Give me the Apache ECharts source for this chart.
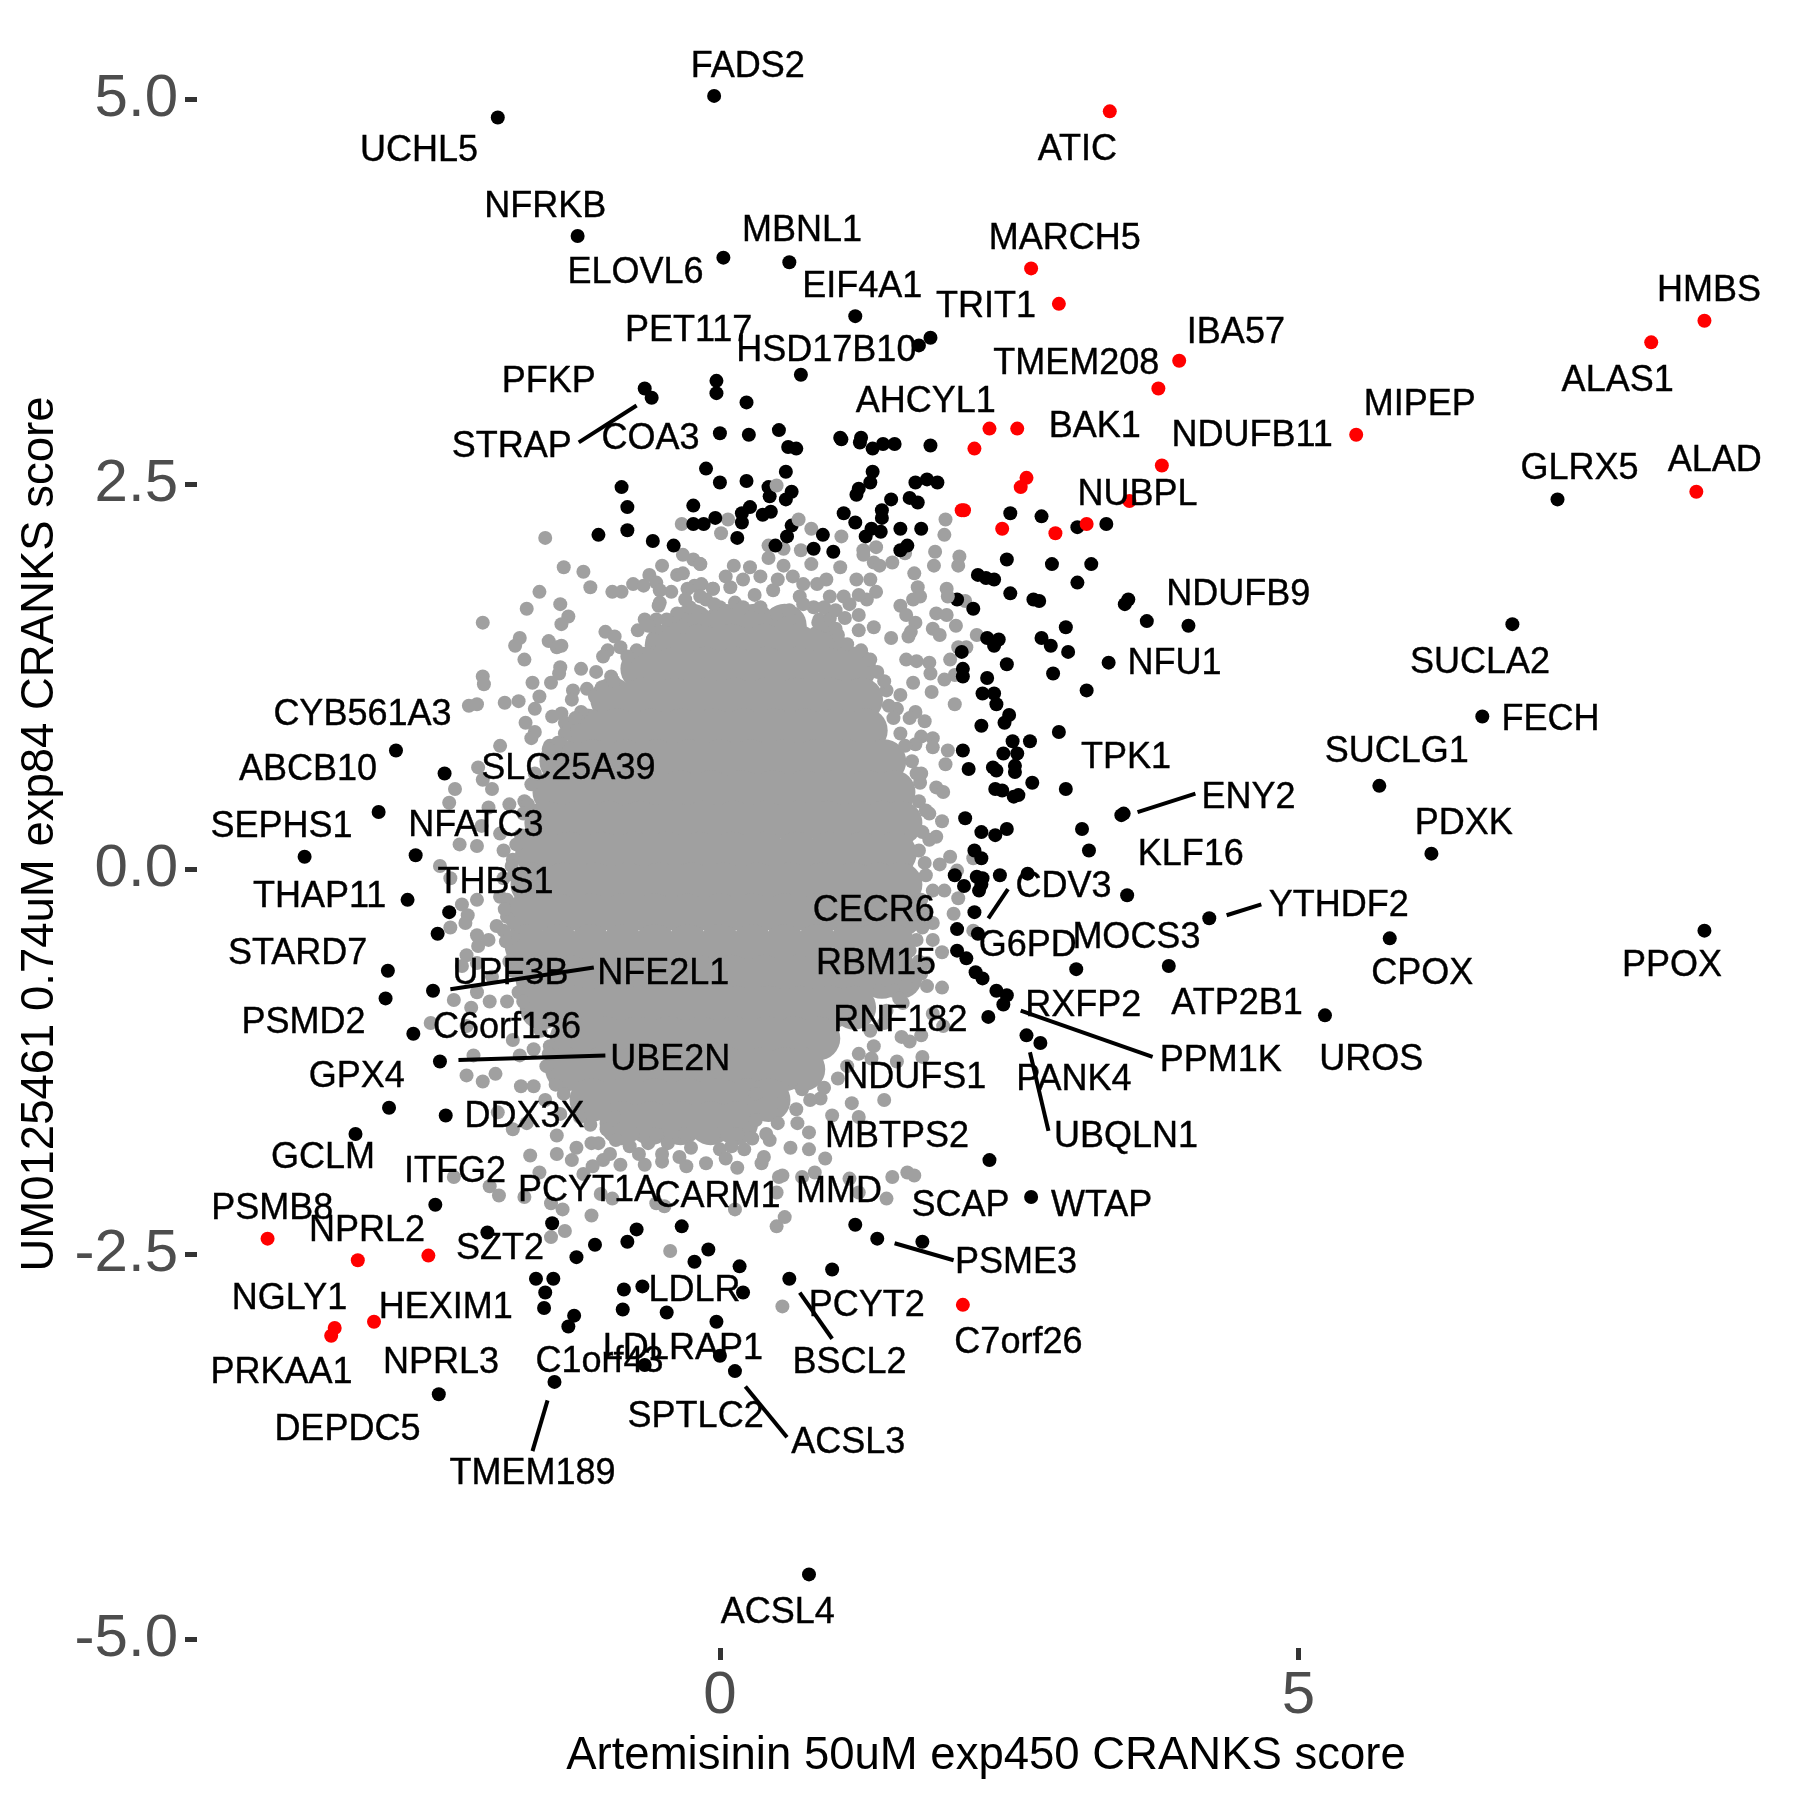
<!DOCTYPE html>
<html><head><meta charset="utf-8">
<style>html,body{margin:0;padding:0;background:#fff}#c{width:1800px;height:1800px}</style>
<script src="https://cdn.jsdelivr.net/npm/echarts@6/dist/echarts.min.js"></script>
</head><body><div id="c"></div>
<script>
const xTicks=[0,5];
const yTicks=[-5,-2.5,0,2.5,5];
const xTitle="Artemisinin 50uM exp450 CRANKS score";
const yTitle="UM0125461 0.74uM exp84 CRANKS score";
const redPoints=[[3.37,4.92],[2.69,3.90],[2.93,3.67],[8.51,3.56],[8.05,3.42],[3.97,3.30],[3.79,3.12],[5.50,2.82],[2.33,2.86],[2.57,2.86],[2.20,2.73],[3.82,2.62],[2.65,2.54],[2.60,2.48],[3.54,2.39],[8.44,2.45],[2.09,2.33],[2.11,2.33],[2.44,2.21],[2.90,2.18],[3.17,2.24],[-3.91,-2.40],[-3.13,-2.54],[-2.52,-2.51],[2.10,-2.83],[-2.99,-2.94],[-3.33,-2.98],[-3.36,-3.03]];
const blackPoints=[[-0.05,5.02],[-1.92,4.88],[-1.23,4.11],[0.03,3.97],[0.60,3.94],[1.17,3.59],[1.82,3.45],[1.72,3.40],[0.70,3.21],[-0.03,3.17],[-0.03,3.09],[-0.65,3.12],[-0.59,3.06],[0.23,3.03],[0,2.83],[0.25,2.82],[0.51,2.85],[0.59,2.74],[1.04,2.80],[1.22,2.80],
[-0.12,2.60],[0,2.51],[0.23,2.52],[0.57,2.58],[0.42,2.48],[0.62,2.45],[0.57,2.40],[0.43,2.42],[0.26,2.35],[0.19,2.31],[0.19,2.25],[-0.04,2.28],[-0.14,2.24],[0.15,2.15],[0.44,2.32],[0.37,2.30],[0.62,2.23],[0.58,2.16],[0.48,2.10],[0.66,2.73],[0.89,2.17],[0.81,2.08],[0.98,2.06],[1.07,2.31],[1.17,2.25],[1.05,2.79],[1.21,2.77],[1.32,2.73],[1.41,2.76],[1.51,2.76],[1.82,2.75],[1.32,2.58],[1.30,2.51],[1.20,2.47],[1.18,2.43],[1.48,2.40],[1.40,2.33],[1.40,2.28],[1.69,2.51],[1.79,2.53],[1.88,2.51],[1.64,2.41],[1.71,2.38],[1.56,2.21],[1.74,2.21],[1.31,2.21],[1.26,2.16],[1.39,2.19],[1.56,2.07],[1.62,2.10],[2.51,2.31],[2.48,2.01],[2.23,1.91],[2.30,1.89],[2.37,1.88],[2.51,1.79],[2.05,1.75],[2.19,1.69],[2.31,1.50],[2.41,1.49],[2.37,1.45],[2.48,1.33],[2.09,1.41],[2.10,1.30],[2.10,1.25],[2.31,1.24],[2.27,1.14],[2.37,1.14],[2.39,1.07],[2.50,1.00],[2.46,0.95],[2.26,0.93],[2.53,0.83],[2.45,0.75],[2.10,0.77],
[-0.85,2.48],[-0.80,2.35],[-0.80,2.20],[-1.05,2.17],[-0.58,2.13],[-0.40,2.10],[-0.23,2.36],[-0.23,2.24],
[2.15,0.65],[2.36,0.66],[2.39,0.64],[2.55,0.67],[2.38,0.52],[2.44,0.51],[2.54,0.47],[2.12,0.33],[2.26,0.24],[2.38,0.22],[2.48,0.26],[2.20,0.12],[2.26,0.07],[2.03,-0.04],[2.11,-0.11],[2.42,-0.04],[2.22,-0.05],[2.27,-0.06],[2.26,-0.10],[2.24,-0.14],[2.20,-0.28],[2.05,-0.39],[2.23,-0.42],[2.05,-0.53],[2.13,-0.58],[2.21,-0.67],[2.27,-0.71],[2.39,-0.79],[2.48,-0.82],[2.45,-0.88],[2.32,-0.96],[2.66,-0.03],
[2.71,1.75],[2.76,1.74],[3.09,1.86],[2.87,1.98],[3.21,1.98],[2.78,2.29],[3.09,2.22],[3.34,2.24],[2.99,1.57],[2.78,1.50],[2.86,1.45],[3.01,1.41],[2.88,1.27],[3.36,1.34],[3.17,1.16],[3.53,1.75],[3.50,1.72],[3.69,1.61],[4.05,1.58],[2.93,0.89],[2.68,0.83],[2.57,0.75],[2.55,0.63],[2.58,0.48],[2.70,0.56],[2.99,0.52],[3.47,0.35],[3.49,0.36],[3.13,0.26],[3.19,0.12],[3.52,-0.17],
[6.85,1.59],[6.59,0.99],[5.70,0.54],[6.15,0.10],[7.24,2.40],[8.51,-0.40],[5.79,-0.45],[4.23,-0.32],[3.88,-0.63],[3.08,-0.65],[5.23,-0.95],[2.65,-1.08],[2.77,-1.13],[2.33,-1.89],[2.69,-2.13],
[-2.46,-2.18],[-2.01,-2.36],[-1.45,-2.30],[-1.24,-2.52],[-1.08,-2.44],[-0.80,-2.42],[-0.72,-2.34],[-0.33,-2.32],[-0.22,-2.55],[-0.10,-2.47],[0.17,-2.58],[0.20,-2.75],[0.60,-2.66],[0.97,-2.60],[1.17,-2.31],[1.36,-2.40],[1.75,-2.42],[-1.59,-2.66],[-1.44,-2.66],[-1.51,-2.75],[-1.52,-2.85],[-1.26,-2.90],[-1.31,-2.97],[-0.83,-2.73],[-0.67,-2.71],[-0.84,-2.86],[-0.46,-2.88],[-0.03,-2.94],[-0.65,-3.22],[0,-3.16],[0.13,-3.26],[-1.43,-3.33],[-2.43,-3.41],[0.77,-4.58],
[-2.80,0.77],[-2.38,0.62],[-2.95,0.37],[-2.63,0.09],[-3.59,0.08],[-2.70,-0.20],[-2.34,-0.28],[-2.44,-0.42],[-2.87,-0.66],[-2.89,-0.84],[-2.48,-0.79],[-2.65,-1.07],[-2.42,-1.25],[-2.86,-1.55],[-3.15,-1.72],[-2.37,-1.60]];
const grayFringe=[[-1.51,2.15],[-1.35,1.96],[-1.18,1.93],[-1.12,1.83],[-1.56,1.80],[-1.38,1.72],[-1.67,1.69],[-1.31,1.64],[-1.37,1.59],[-2.05,1.60],[-1.73,1.50],[-1.77,1.45],[-1.48,1.48],[-1.41,1.44],[-1.37,1.45],[-1.69,1.36],[-2.05,1.25],[-2.04,1.20],[-1.38,1.31],[-1.39,1.27],[-1.46,1.21],[-1.62,1.21],[-1.56,1.12],[-1.74,1.09],[-1.86,1.08],[-2.17,1.06],[-2.10,1.07],[-1.60,1.04],[-1.45,0.99],[-1.37,1.01],[-1.68,0.95],[-1.60,0.89],[-1.63,0.85],[-1.90,0.80],[-1.47,0.80],
[-0.33,2.24],[-0.32,2.04],[-0.23,2.01],[-0.17,1.98],[-0.50,1.97],[-0.37,1.91],[-0.32,1.92],[-0.61,1.91],[-0.75,1.85],[-0.66,1.84],[-0.93,1.80],[-0.85,1.80],[-0.55,1.86],[-0.52,1.81],[-0.53,1.71],[-0.22,1.84],[-0.16,1.85],[-0.06,1.82],[-0.65,1.62],[-0.71,1.55],[-0.55,1.55],[-0.99,1.54],[-0.91,1.51],[-0.97,1.42],[-1.01,1.38],[-0.86,1.44],[-1.20,1.30],[-1.07,1.28],[-0.94,1.25],[-1.27,1.16],[-1.15,1.17],[-1.08,1.12],[-1.28,1.10],[-1.34,0.95],[-1.34,0.88],
[0.07,2.27],[0.01,2.18],[0.79,2.21],[0.42,2.10],[0.55,2.08],[0.70,2.07],[1.05,2.16],[1.24,2.07],[1.35,2.09],[1.24,2.04],[1.33,1.99],[1.38,1.97],[1.49,1.99],[1.60,2.05],[1.95,2.27],[1.94,2.17],[1.86,2.06],[1.85,1.97],[2.07,2.03],[2.06,1.97],[1.68,1.92],[1.71,1.83],[1.73,1.77],[1.67,1.75],[1.96,1.82],[2.12,1.74],[1.56,1.71],[1.61,1.65],[1.87,1.66],[1.96,1.65],[2.04,1.58],[1.84,1.56],[1.90,1.52],[1.69,1.60],[1.65,1.54],[1.63,1.51],[2.22,1.52],[2.06,1.44],[2.13,1.44],[1.99,1.36],[2.03,1.26],[1.94,1.23],[1.61,1.36],[1.70,1.35],[1.81,1.34],[1.82,1.27],[1.67,1.21],[1.83,1.15],[2.03,1.07],[1.69,1.02],[1.77,0.96],[1.53,1.04],[1.64,0.98],[1.74,0.86],[1.84,0.85],[1.84,0.79],[1.69,0.81],[1.97,0.77],[1.33,1.57],[1.20,1.65],[1.08,1.63],[0.95,1.63],[1.48,1.50],[1.56,1.13],[1.44,1.16],
[0.12,1.97],[0.26,1.96],[0.42,2.02],[0.55,1.97],[-0.17,1.98],[0.79,1.98],[1.04,1.96],[1.18,1.88],[1.30,1.88],[1.35,1.80],[1.27,1.75],[0.30,1.78],[0.09,1.83],[-0.06,1.82],[0.63,1.90],[1.07,1.77],[0.13,1.73],[0.46,1.81],[0.84,1.85],[0.95,1.77],[0.81,1.70],[0.69,1.77],[0.49,1.66],[-0.12,1.75],[0,1.70],[-0.26,1.70],[-0.37,1.66],[-0.17,1.77],[-0.32,1.57],[-0.46,1.62],[-0.12,1.62],[-0.52,1.73],[-0.58,1.49],
[1.95,0.68],[1.74,0.62],[1.73,0.56],[1.87,0.53],[1.93,0.50],[1.81,0.36],[1.92,0.31],[1.87,0.21],[1.81,0.19],[1.99,0.08],[1.90,0.03],[2.05,-0.01],[2.19,0.07],[1.84,-0.14],[1.94,-0.14],[2.06,-0.19],[2.02,-0.29],[1.84,-0.35],[2.19,-0.40],[1.84,-0.46],[1.92,-0.54],[1.79,-0.61],[1.92,-0.77],[1.79,-0.76],[1.58,-0.87],[1.84,-0.94],[1.93,-1.02],[1.74,-1.08],[1.57,-1.09],[1.64,-1.12],[1.33,-1.15],[1.31,-1.23],[1.53,-1.25],[1.75,-1.22],[1.38,-0.79],[1.50,-0.79],[1.61,-0.76],[1.64,-0.53],[1.70,-0.46],
[-2.09,0.66],[-2.29,0.52],[-2.05,0.58],[-1.97,0.52],[-2.34,0.43],[-2.00,0.40],[-1.82,0.42],[-1.69,0.44],[-2.06,0.28],[-1.90,0.23],[-2.25,0.16],[-2.10,0.15],[-1.79,0.06],[-2.42,0.02],[-2.33,-0.06],[-1.87,-0.06],[-2.10,-0.20],[-2.23,-0.23],[-2.18,-0.30],[-2.20,-0.35],[-2.33,-0.38],[-1.93,-0.37],[-2.10,-0.43],[-2.00,-0.46],[-2.09,-0.50],[-2.19,-0.56],[-2.23,-0.63],[-2.10,-0.61],[-1.97,-0.70],[-2.10,-0.80],[-2.30,-0.85],[-1.99,-0.86],[-1.84,-0.86],[-2.15,-0.90],[-2.50,-1.00],[-2.19,-1.02],[-1.79,-1.11],[-1.61,-1.17],[-2.13,-1.21],[-1.73,-1.21],[-1.47,-1.15],[-1.87,0.12],[-1.90,-0.18],[-1.84,-0.31],[-1.79,-0.44],[-1.76,-0.61],[-1.70,-0.74],[-1.56,-1.00],
[-2.19,-1.34],[-2.05,-1.38],[-1.94,-1.33],[-1.72,-1.41],[-1.61,-1.41],[-1.92,-1.58],[-1.79,-1.69],[-1.67,-1.65],[-1.64,-1.86],[-1.41,-1.73],[-1.41,-1.85],[-1.28,-1.89],[-1.56,-1.97],[-2.30,-2.00],[-1.99,-2.06],[-1.91,-2.12],[-1.69,-2.13],[-1.46,-2.17],[-1.36,-2.21],[-1.46,-2.39],[-1.34,-2.35],[-1.11,-2.25],[-1.03,-2.11],[-0.93,-2.14],[-1.18,-1.98],[-1.10,-1.93],[-1.01,-1.89],[-0.86,-1.92],[-0.65,-1.92],[-0.50,-1.90],[-0.55,-2.17],[-0.48,-2.19],[-0.43,-2.48],[-0.29,-1.93],[-0.12,-1.91],[0.15,-1.94],[-0.25,-1.81],[0,-1.82],[0.21,-1.82],[0.36,-1.91],[0.51,-2.00],[0.49,-2.10],[0.13,-2.21],[0.56,-2.26],[0.49,-2.32],[0.71,-2.00],[0.82,-1.97],[0.91,-1.88],[1.12,-2.01],[1.20,-2.10],[1.49,-2.00],[1.62,-1.97],[1.68,-1.99],[1.44,-2.14],[1.42,-1.50],[1.14,-1.52],[1.20,-1.61],[0.97,-1.60],[0.87,-1.49],[0.77,-1.82],[0.61,-1.81],[0.43,-1.76],[0.38,-1.87],[0.67,-1.65],[0.77,-1.71],[0.54,-1.99],[0.54,-2.84],[-1.11,-1.78],[-0.78,-1.80],[-0.62,-1.78],[-0.45,-1.78],[-1.24,-1.81],[0.31,-1.63],[0.54,-1.52],[0.15,-1.72],[-0.98,-1.69],[-0.91,-1.61],[-1.38,-1.59],[-1.21,-1.61],[-1.51,-1.50],[0.31,-1.46],[0.71,-1.43],
[-0.55,1.62],[-0.62,1.58],[-0.72,1.42],[-0.8,1.38],[-0.92,1.22],[-1.02,1.18],[-1.2,1.02],[-1.25,0.98],[-1.4,0.82],[-1.48,0.78],[-1.6,0.62],[-1.63,0.55],[-1.66,0.42],[-1.7,0.36],[-1.72,0.22],[-1.76,0.16],[-1.8,0.02],[-1.78,-0.04],[-1.84,-0.2],[-1.86,-0.26],[-1.87,-0.4],[-1.85,-0.47],[-1.82,-0.6],[-1.79,-0.66],[-1.74,-0.8],[-1.7,-0.86],[-1.6,-0.98],[-1.55,-1.05],[-1.48,-1.2],[-1.5,-1.28],[-1.42,-1.4],[-1.35,-1.46],[-1.12,-1.66],
[0.86,1.62],[0.92,1.58],[1.02,1.52],[1.1,1.46],[1.22,1.42],[1.3,1.36],[1.36,1.28],[1.42,1.22],[1.46,1.06],[1.5,0.98],[1.56,0.88],[1.6,0.8],[1.66,0.7],[1.7,0.62],[1.72,0.44],[1.78,0.38],[1.75,0.24],[1.72,0.12],[1.77,0.04],[1.78,-0.04],[1.74,-0.2],[1.78,-0.28],[1.75,-0.38],[1.72,-0.6],[1.74,-0.68],[1.55,-0.84],[1.44,-0.92],[1.42,-1.0],[1.3,-1.05],[1.2,-1.2],[1.1,-1.28],[1.02,-1.36],[0.9,-1.42],[0.78,-1.5],[0.66,-1.56],[0.5,-1.65],[0.4,-1.72],
[0.05,1.9],[0.2,1.88],[0.35,1.9],[0.5,1.88],[0.72,1.85],[0.92,1.88],[-0.05,1.72],[0.2,1.7],[0.35,1.7],[0.6,1.68],[0.72,1.72],[0.9,1.7],[1.0,1.68],[1.12,1.72],[1.2,1.78],[0.85,1.6],[1.0,1.56],[1.2,1.55],[-0.42,1.8],[-0.28,1.82],[-0.3,1.75],
[-0.9,-1.76],[-0.75,-1.72],[-0.55,-1.72],[-0.3,-1.72],[-0.05,-1.72],[0.1,-1.8],[0.28,-1.75],[-1.05,-1.78],[-0.5,-1.85],[-0.7,-1.85],[-0.95,-1.85],[-0.35,-1.87],[0.05,-1.88]];
const grayOnBlack=[[0.49,2.49],[0.68,2.27],[1.97,1.77]];
// overplotted centre of the cloud, one row per y value
const grayCoreRows=[
[1.58,[-0.24,0.04,0.3,0.56]],
[1.45,[-0.46,-0.18,0.1,0.38,0.66,0.9]],
[1.3,[-0.67,-0.4,-0.13,0.13,0.4,0.66,0.92,1.16]],
[1.1,[-0.93,-0.66,-0.4,-0.13,0.13,0.4,0.66,0.95,1.22]],
[0.9,[-1.15,-0.88,-0.6,-0.33,-0.06,0.2,0.47,0.74,1.0,1.26]],
[0.7,[-1.37,-1.1,-0.82,-0.55,-0.27,0,0.27,0.55,0.82,1.1,1.42]],
[0.5,[-1.43,-1.16,-0.89,-0.62,-0.35,-0.08,0.19,0.46,0.73,1.0,1.27,1.5]],
[0.3,[-1.5,-1.23,-0.96,-0.69,-0.42,-0.15,0.12,0.39,0.66,0.93,1.2,1.4,1.56]],
[0.1,[-1.58,-1.3,-1.02,-0.74,-0.46,-0.18,0.1,0.38,0.66,0.94,1.22,1.51]],
[-0.1,[-1.62,-1.35,-1.08,-0.8,-0.52,-0.24,0.04,0.32,0.6,0.88,1.16,1.37,1.56]],
[-0.3,[-1.67,-1.4,-1.12,-0.84,-0.56,-0.28,0,0.28,0.56,0.84,1.12,1.35,1.56]],
[-0.5,[-1.67,-1.4,-1.12,-0.84,-0.56,-0.28,0,0.28,0.56,0.84,1.12,1.32,1.5]],
[-0.7,[-1.58,-1.3,-1.02,-0.74,-0.46,-0.18,0.1,0.38,0.66,0.94,1.22,1.4,1.56]],
[-0.9,[-1.54,-1.26,-0.98,-0.7,-0.42,-0.14,0.14,0.42,0.7,0.95,1.16]],
[-1.1,[-1.28,-1.0,-0.72,-0.44,-0.16,0.12,0.4,0.64,0.85]],
[-1.3,[-1.32,-1.04,-0.76,-0.48,-0.2,0.08,0.36,0.56,0.72]],
[-1.5,[-1.11,-0.84,-0.56,-0.28,0,0.24,0.42]],
[-1.65,[-0.85,-0.6,-0.34,-0.08,0.14]]];
const labels=[["FADS2",0.24,5.21],["UCHL5",-2.60,4.66],["ATIC",3.09,4.67],["NFRKB",-1.51,4.30],["MBNL1",0.71,4.14],["MARCH5",2.98,4.09],["ELOVL6",-0.73,3.87],["EIF4A1",1.23,3.78],["HMBS",8.55,3.75],["TRIT1",2.30,3.65],["PET117",-0.27,3.49],["IBA57",4.46,3.48],["HSD17B10",0.92,3.36],["TMEM208",3.08,3.28],["PFKP",-1.48,3.16],["ALAS1",7.76,3.17],["AHCYL1",1.78,3.03],["MIPEP",6.05,3.01],["BAK1",3.24,2.87],["NDUFB11",4.60,2.81],["COA3",-0.60,2.79],["STRAP",-1.80,2.74],["ALAD",8.60,2.65],["GLRX5",7.43,2.60],["NUBPL",3.61,2.43],["NDUFB9",4.48,1.78],["SUCLA2",6.57,1.34],["NFU1",3.93,1.33],["CYB561A3",-3.09,1.00],["FECH",7.18,0.97],["SUCLG1",5.85,0.76],["TPK1",3.51,0.72],["ABCB10",-3.56,0.64],["SLC25A39",-1.31,0.65],["ENY2",4.57,0.46],["PDXK",6.43,0.29],["NFATC3",-2.11,0.28],["SEPHS1",-3.79,0.27],["KLF16",4.07,0.09],["THBS1",-1.94,-0.09],["THAP11",-3.46,-0.18],["CDV3",2.97,-0.12],["CECR6",1.33,-0.27],["YTHDF2",5.35,-0.24],["MOCS3",3.60,-0.45],["G6PD",2.66,-0.50],["STARD7",-3.65,-0.55],["RBM15",1.35,-0.62],["UPF3B",-1.81,-0.68],["NFE2L1",-0.49,-0.68],["CPOX",6.07,-0.68],["PPOX",8.23,-0.63],["ATP2B1",4.47,-0.88],["RXFP2",3.14,-0.89],["PSMD2",-3.60,-1.00],["RNF182",1.56,-0.99],["C6orf136",-1.84,-1.03],["PPM1K",4.33,-1.25],["UROS",5.63,-1.24],["UBE2N",-0.43,-1.24],["GPX4",-3.14,-1.35],["NDUFS1",1.68,-1.36],["PANK4",3.06,-1.37],["DDX3X",-1.69,-1.61],["UBQLN1",3.51,-1.74],["MBTPS2",1.53,-1.74],["GCLM",-3.43,-1.88],["ITFG2",-2.29,-1.97],["PCYT1A",-1.14,-2.09],["CARM1",-0.02,-2.13],["MMD",1.03,-2.10],["SCAP",2.08,-2.19],["WTAP",3.30,-2.19],["PSMB8",-3.87,-2.21],["NPRL2",-3.05,-2.35],["SZT2",-1.90,-2.47],["PSME3",2.56,-2.56],["LDLR",-0.22,-2.74],["NGLY1",-3.72,-2.79],["HEXIM1",-2.37,-2.85],["PCYT2",1.27,-2.84],["C7orf26",2.58,-3.08],["LDLRAP1",-0.32,-3.12],["NPRL3",-2.41,-3.21],["C1orf43",-1.04,-3.20],["BSCL2",1.12,-3.21],["PRKAA1",-3.79,-3.27],["SPTLC2",-0.21,-3.56],["DEPDC5",-3.22,-3.64],["ACSL3",1.11,-3.73],["TMEM189",-1.62,-3.93],["ACSL4",0.50,-4.83]];
const connectors=[[[-1.22,2.77],[-0.72,3.01]],[[3.61,0.37],[4.11,0.49]],[[2.32,-0.32],[2.49,-0.13]],[[4.38,-0.30],[4.68,-0.23]],[[-2.33,-0.78],[-1.09,-0.64]],[[-2.26,-1.24],[-0.99,-1.21]],[[2.60,-0.92],[3.74,-1.22]],[[2.68,-1.19],[2.84,-1.70]],[[1.51,-2.43],[2.02,-2.54]],[[0.69,-2.75],[0.97,-3.05]],[[0.22,-3.36],[0.58,-3.69]],[[-1.49,-3.45],[-1.62,-3.78]]];

const FONT='"Liberation Sans",Arial,sans-serif';
const coreData=[];
grayCoreRows.forEach(r=>r[1].forEach(x=>coreData.push([x,r[0]])));
const pts=(data,color,size)=>({type:'scatter',data,symbolSize:size,itemStyle:{color,opacity:1},silent:true,animation:false});
const chart=echarts.init(document.getElementById('c'),null,{renderer:'canvas'});
const axisCommon={axisLine:{show:false,onZero:false},splitLine:{show:false},nameTextStyle:{fontFamily:FONT,fontSize:45.5,color:'#000'}};
chart.setOption({
 animation:false,
 backgroundColor:'#fff',
 grid:{left:197,top:20,width:1578,height:1628,outerBoundsMode:'none'},
 xAxis:Object.assign({type:'value',min:-4.52,max:9.12,name:xTitle,nameLocation:'middle',nameGap:85,
   axisTick:{show:true,length:12,customValues:xTicks,lineStyle:{color:'#333',width:5}},
   axisLabel:{show:true,customValues:xTicks,margin:18,fontFamily:FONT,fontSize:60,color:'#4D4D4D',formatter:v=>String(v)}},axisCommon),
 yAxis:Object.assign({type:'value',min:-5.058,max:5.513,name:yTitle,nameLocation:'middle',nameGap:132,
   axisTick:{show:true,length:12,customValues:yTicks,lineStyle:{color:'#333',width:5}},
   axisLabel:{show:true,customValues:yTicks,margin:19,padding:[5,0,0,0],fontFamily:FONT,fontSize:60,color:'#4D4D4D',formatter:v=>v.toFixed(1)}},axisCommon),
 series:[
  pts(coreData,'#A0A0A0',44),
  pts(grayFringe,'#A0A0A0',14),
  pts(blackPoints,'#000',14),
  pts(grayOnBlack,'#A0A0A0',14),
  pts(redPoints,'#FF0000',14),
  {type:'lines',coordinateSystem:'cartesian2d',polyline:false,silent:true,animation:false,z:5,
   data:connectors.map(c=>({coords:c})),symbol:'none',lineStyle:{color:'#000',width:4,opacity:1,curveness:0}},
  {type:'scatter',silent:true,animation:false,z:6,symbolSize:1,itemStyle:{color:'rgba(0,0,0,0)'},
   data:labels.map(l=>({name:l[0],value:[l[1],l[2]]})),
   label:{show:true,position:'inside',align:'center',verticalAlign:'middle',formatter:'{b}',fontFamily:FONT,fontSize:36,color:'#000',opacity:1,textBorderColor:'#000',textBorderWidth:0.4},
   labelLayout:{hideOverlap:false}}
 ]
});
</script></body></html>
